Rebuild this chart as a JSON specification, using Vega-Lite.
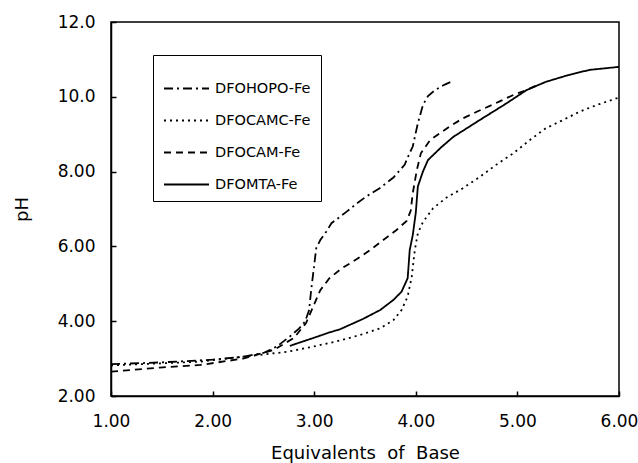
{
  "$schema": "https://vega.github.io/schema/vega-lite/v6.json",
  "width": 508,
  "height": 374,
  "autosize": {"type": "none"},
  "padding": {"left": 111, "top": 22, "right": 19, "bottom": 67},
  "background": "white",
  "config": {
    "font": "DejaVu Sans",
    "view": {"stroke": "black", "strokeWidth": 1.5},
    "axis": {
      "grid": false,
      "zindex": 1,
      "domainColor": "black",
      "domainWidth": 1.5,
      "tickColor": "black",
      "tickWidth": 1.5,
      "tickSize": -5,
      "labelColor": "black",
      "labelFont": "DejaVu Sans",
      "labelFontSize": 17,
      "titleColor": "black",
      "titleFont": "DejaVu Sans",
      "titleFontSize": 18,
      "titleFontWeight": "normal"
    },
    "legend": {
      "labelFont": "DejaVu Sans",
      "labelFontSize": 14.5,
      "labelColor": "black"
    }
  },
  "data": {
    "values": [
      {"series": "DFOHOPO-Fe", "eq": 1.00, "pH": 2.85},
      {"series": "DFOHOPO-Fe", "eq": 1.50, "pH": 2.90},
      {"series": "DFOHOPO-Fe", "eq": 2.00, "pH": 2.97},
      {"series": "DFOHOPO-Fe", "eq": 2.30, "pH": 3.05},
      {"series": "DFOHOPO-Fe", "eq": 2.50, "pH": 3.15},
      {"series": "DFOHOPO-Fe", "eq": 2.63, "pH": 3.32},
      {"series": "DFOHOPO-Fe", "eq": 2.76, "pH": 3.59},
      {"series": "DFOHOPO-Fe", "eq": 2.85, "pH": 3.80},
      {"series": "DFOHOPO-Fe", "eq": 2.91, "pH": 3.99},
      {"series": "DFOHOPO-Fe", "eq": 2.95, "pH": 4.30},
      {"series": "DFOHOPO-Fe", "eq": 2.97, "pH": 4.83},
      {"series": "DFOHOPO-Fe", "eq": 3.00, "pH": 5.50},
      {"series": "DFOHOPO-Fe", "eq": 3.02, "pH": 5.95},
      {"series": "DFOHOPO-Fe", "eq": 3.06, "pH": 6.17},
      {"series": "DFOHOPO-Fe", "eq": 3.12, "pH": 6.40},
      {"series": "DFOHOPO-Fe", "eq": 3.17, "pH": 6.62},
      {"series": "DFOHOPO-Fe", "eq": 3.32, "pH": 6.93},
      {"series": "DFOHOPO-Fe", "eq": 3.42, "pH": 7.15},
      {"series": "DFOHOPO-Fe", "eq": 3.51, "pH": 7.33},
      {"series": "DFOHOPO-Fe", "eq": 3.64, "pH": 7.55},
      {"series": "DFOHOPO-Fe", "eq": 3.78, "pH": 7.84},
      {"series": "DFOHOPO-Fe", "eq": 3.89, "pH": 8.18},
      {"series": "DFOHOPO-Fe", "eq": 3.94, "pH": 8.50},
      {"series": "DFOHOPO-Fe", "eq": 3.97, "pH": 8.67},
      {"series": "DFOHOPO-Fe", "eq": 4.02, "pH": 9.29},
      {"series": "DFOHOPO-Fe", "eq": 4.07, "pH": 9.78},
      {"series": "DFOHOPO-Fe", "eq": 4.12, "pH": 10.02},
      {"series": "DFOHOPO-Fe", "eq": 4.19, "pH": 10.18},
      {"series": "DFOHOPO-Fe", "eq": 4.28, "pH": 10.32},
      {"series": "DFOHOPO-Fe", "eq": 4.37, "pH": 10.43},
      {"series": "DFOCAMC-Fe", "eq": 1.00, "pH": 2.82},
      {"series": "DFOCAMC-Fe", "eq": 1.48, "pH": 2.87},
      {"series": "DFOCAMC-Fe", "eq": 1.88, "pH": 2.92},
      {"series": "DFOCAMC-Fe", "eq": 2.30, "pH": 3.05},
      {"series": "DFOCAMC-Fe", "eq": 2.73, "pH": 3.18},
      {"series": "DFOCAMC-Fe", "eq": 2.99, "pH": 3.32},
      {"series": "DFOCAMC-Fe", "eq": 3.25, "pH": 3.48},
      {"series": "DFOCAMC-Fe", "eq": 3.45, "pH": 3.63},
      {"series": "DFOCAMC-Fe", "eq": 3.65, "pH": 3.81},
      {"series": "DFOCAMC-Fe", "eq": 3.78, "pH": 4.03},
      {"series": "DFOCAMC-Fe", "eq": 3.86, "pH": 4.30},
      {"series": "DFOCAMC-Fe", "eq": 3.92, "pH": 4.66},
      {"series": "DFOCAMC-Fe", "eq": 3.96, "pH": 5.19},
      {"series": "DFOCAMC-Fe", "eq": 3.99, "pH": 5.90},
      {"series": "DFOCAMC-Fe", "eq": 4.02, "pH": 6.35},
      {"series": "DFOCAMC-Fe", "eq": 4.07, "pH": 6.65},
      {"series": "DFOCAMC-Fe", "eq": 4.17, "pH": 7.02},
      {"series": "DFOCAMC-Fe", "eq": 4.30, "pH": 7.30},
      {"series": "DFOCAMC-Fe", "eq": 4.46, "pH": 7.55},
      {"series": "DFOCAMC-Fe", "eq": 4.63, "pH": 7.86},
      {"series": "DFOCAMC-Fe", "eq": 4.79, "pH": 8.18},
      {"series": "DFOCAMC-Fe", "eq": 4.96, "pH": 8.49},
      {"series": "DFOCAMC-Fe", "eq": 5.12, "pH": 8.84},
      {"series": "DFOCAMC-Fe", "eq": 5.28, "pH": 9.16},
      {"series": "DFOCAMC-Fe", "eq": 5.45, "pH": 9.38},
      {"series": "DFOCAMC-Fe", "eq": 5.61, "pH": 9.60},
      {"series": "DFOCAMC-Fe", "eq": 5.78, "pH": 9.78},
      {"series": "DFOCAMC-Fe", "eq": 6.00, "pH": 9.98},
      {"series": "DFOCAM-Fe", "eq": 1.00, "pH": 2.65},
      {"series": "DFOCAM-Fe", "eq": 1.48, "pH": 2.76},
      {"series": "DFOCAM-Fe", "eq": 1.88, "pH": 2.83},
      {"series": "DFOCAM-Fe", "eq": 2.30, "pH": 3.00},
      {"series": "DFOCAM-Fe", "eq": 2.60, "pH": 3.23},
      {"series": "DFOCAM-Fe", "eq": 2.80, "pH": 3.55},
      {"series": "DFOCAM-Fe", "eq": 2.92, "pH": 3.95},
      {"series": "DFOCAM-Fe", "eq": 2.99, "pH": 4.39},
      {"series": "DFOCAM-Fe", "eq": 3.06, "pH": 4.83},
      {"series": "DFOCAM-Fe", "eq": 3.15, "pH": 5.15},
      {"series": "DFOCAM-Fe", "eq": 3.27, "pH": 5.41},
      {"series": "DFOCAM-Fe", "eq": 3.42, "pH": 5.66},
      {"series": "DFOCAM-Fe", "eq": 3.55, "pH": 5.90},
      {"series": "DFOCAM-Fe", "eq": 3.68, "pH": 6.17},
      {"series": "DFOCAM-Fe", "eq": 3.81, "pH": 6.44},
      {"series": "DFOCAM-Fe", "eq": 3.91, "pH": 6.68},
      {"series": "DFOCAM-Fe", "eq": 3.95, "pH": 6.95},
      {"series": "DFOCAM-Fe", "eq": 3.97, "pH": 7.42},
      {"series": "DFOCAM-Fe", "eq": 4.01, "pH": 8.04},
      {"series": "DFOCAM-Fe", "eq": 4.05, "pH": 8.49},
      {"series": "DFOCAM-Fe", "eq": 4.14, "pH": 8.84},
      {"series": "DFOCAM-Fe", "eq": 4.33, "pH": 9.20},
      {"series": "DFOCAM-Fe", "eq": 4.46, "pH": 9.42},
      {"series": "DFOCAM-Fe", "eq": 4.60, "pH": 9.60},
      {"series": "DFOCAM-Fe", "eq": 4.82, "pH": 9.87},
      {"series": "DFOCAM-Fe", "eq": 4.96, "pH": 10.05},
      {"series": "DFOCAM-Fe", "eq": 5.09, "pH": 10.18},
      {"series": "DFOCAM-Fe", "eq": 5.20, "pH": 10.32},
      {"series": "DFOMTA-Fe", "eq": 2.76, "pH": 3.34},
      {"series": "DFOMTA-Fe", "eq": 2.99, "pH": 3.55},
      {"series": "DFOMTA-Fe", "eq": 3.15, "pH": 3.70},
      {"series": "DFOMTA-Fe", "eq": 3.25, "pH": 3.78},
      {"series": "DFOMTA-Fe", "eq": 3.48, "pH": 4.06},
      {"series": "DFOMTA-Fe", "eq": 3.65, "pH": 4.30},
      {"series": "DFOMTA-Fe", "eq": 3.78, "pH": 4.57},
      {"series": "DFOMTA-Fe", "eq": 3.86, "pH": 4.79},
      {"series": "DFOMTA-Fe", "eq": 3.92, "pH": 5.15},
      {"series": "DFOMTA-Fe", "eq": 3.94, "pH": 5.90},
      {"series": "DFOMTA-Fe", "eq": 3.97, "pH": 6.30},
      {"series": "DFOMTA-Fe", "eq": 4.00, "pH": 6.90},
      {"series": "DFOMTA-Fe", "eq": 4.02, "pH": 7.60},
      {"series": "DFOMTA-Fe", "eq": 4.07, "pH": 8.00},
      {"series": "DFOMTA-Fe", "eq": 4.12, "pH": 8.31},
      {"series": "DFOMTA-Fe", "eq": 4.25, "pH": 8.65},
      {"series": "DFOMTA-Fe", "eq": 4.37, "pH": 8.93},
      {"series": "DFOMTA-Fe", "eq": 4.63, "pH": 9.38},
      {"series": "DFOMTA-Fe", "eq": 4.89, "pH": 9.82},
      {"series": "DFOMTA-Fe", "eq": 5.09, "pH": 10.18},
      {"series": "DFOMTA-Fe", "eq": 5.28, "pH": 10.40},
      {"series": "DFOMTA-Fe", "eq": 5.50, "pH": 10.58},
      {"series": "DFOMTA-Fe", "eq": 5.71, "pH": 10.72},
      {"series": "DFOMTA-Fe", "eq": 6.00, "pH": 10.80}
    ]
  },
  "mark": {"type": "line", "color": "black", "strokeWidth": 1.8, "clip": true},
  "encoding": {
    "x": {
      "field": "eq", "type": "quantitative",
      "scale": {"domain": [1, 6], "nice": false, "zero": false},
      "axis": {
        "values": [1, 2, 3, 4, 5, 6],
        "format": ".3r",
        "title": "Equivalents \u00a0of \u00a0Base",
        "labelPadding": 22,
        "labelFlush": false,
        "titleY": 62,
        "titleBaseline": "alphabetic"
      }
    },
    "y": {
      "field": "pH", "type": "quantitative",
      "scale": {"domain": [2, 12], "nice": false, "zero": false},
      "axis": {
        "values": [2, 4, 6, 8, 10, 12],
        "format": ".3r",
        "title": "pH",
        "labelPadding": 21,
        "labelFlush": false,
        "titleX": -89,
        "titleY": 187,
        "titleAngle": 270,
        "titleAlign": "center",
        "titleBaseline": "middle"
      }
    },
    "strokeDash": {
      "field": "series", "type": "nominal",
      "scale": {
        "domain": ["DFOHOPO-Fe", "DFOCAMC-Fe", "DFOCAM-Fe", "DFOMTA-Fe"],
        "range": [[9, 4, 2, 4], [2, 4], [7, 5], [1, 0]]
      },
      "legend": {
        "title": null,
        "orient": "none",
        "legendX": 42,
        "legendY": 33,
        "padding": 10,
        "strokeColor": "black",
        "fillColor": "white",
        "symbolType": "stroke",
        "symbolSize": 2025,
        "symbolStrokeWidth": 1.8,
        "symbolStrokeColor": "black",
        "labelOffset": 5,
        "rowPadding": 2
      }
    }
  }
}
